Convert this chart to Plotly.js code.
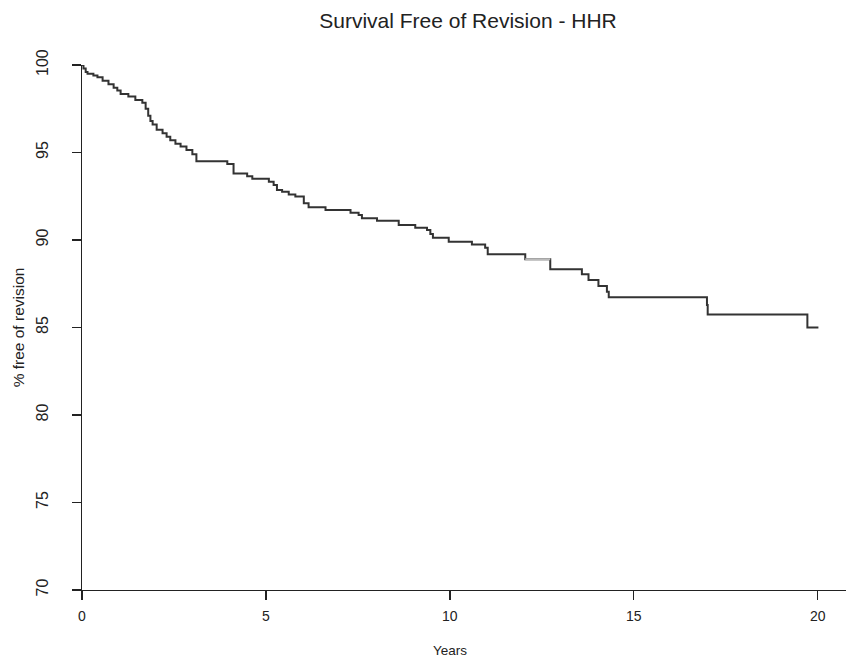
<!DOCTYPE html>
<html>
<head>
<meta charset="utf-8">
<script src="https://cdn.plot.ly/plotly-3.0.1.min.js"></script>
<style>html,body{margin:0;padding:0;background:#fff;}#chart{width:846px;height:662px;}</style>
</head>
<body>
<div id="chart"></div>
<script>
// Kaplan-Meier step curve
const years = [0, 0.04, 0.1, 0.15, 0.31, 0.42, 0.56, 0.72, 0.86, 0.96, 1.05, 1.26, 1.45, 1.64, 1.73, 1.8, 1.86, 1.92, 2.03, 2.19, 2.3, 2.4, 2.54, 2.68, 2.84, 3.0, 3.11, 3.95, 4.12, 4.49, 4.63, 5.08, 5.21, 5.3, 5.44, 5.62, 5.8, 6.03, 6.16, 6.62, 7.3, 7.52, 7.61, 8.02, 8.61, 9.06, 9.38, 9.47, 9.54, 9.97, 10.6, 10.96, 11.03, 12.05, 12.73, 13.59, 13.77, 14.04, 14.27, 14.32, 16.99, 17.01, 19.72, 20.02];
const survival = [100, 99.8, 99.6, 99.5, 99.4, 99.3, 99.1, 98.9, 98.7, 98.55, 98.35, 98.2, 98.0, 97.85, 97.5, 97.1, 96.8, 96.6, 96.3, 96.1, 95.9, 95.7, 95.5, 95.35, 95.15, 94.9, 94.5, 94.35, 93.8, 93.65, 93.5, 93.33, 93.14, 92.86, 92.76, 92.6, 92.48, 92.1, 91.87, 91.71, 91.56, 91.43, 91.24, 91.1, 90.86, 90.7, 90.57, 90.35, 90.13, 89.9, 89.75, 89.56, 89.18, 88.9, 88.33, 88.04, 87.71, 87.37, 87.05, 86.73, 86.29, 85.75, 85.0, 85.0];
// the faint segment of the curve (between these two steps)
const faintFrom = 12.05, faintTo = 12.73;
const xTicks = [0, 5, 10, 15, 20];
const yTicks = [70, 75, 80, 85, 90, 95, 100];

const iA = years.indexOf(faintFrom), iB = years.indexOf(faintTo);
const font = "Liberation Sans, Arial, Helvetica, sans-serif";
const ink = "#222";

const traces = [
  {x: years, y: survival, type: "scatter", mode: "lines", line: {shape: "hv", color: "#333", width: 2}, hoverinfo: "skip"},
  {x: [years[iA], years[iB]], y: [survival[iA], survival[iA]], type: "scatter", mode: "lines", line: {color: "#bbb", width: 2}, hoverinfo: "skip"}
];

const layout = {
  width: 846, height: 662,
  margin: {l: 82, r: 0, t: 65, b: 72, pad: 0},
  paper_bgcolor: "#fff", plot_bgcolor: "#fff",
  showlegend: false,
  font: {family: font, color: ink, size: 14},
  title: {text: "Survival Free of Revision - HHR", font: {family: font, size: 21, color: ink},
          xref: "container", x: 468 / 846, xanchor: "center", yref: "container", y: 1 - 21 / 662, yanchor: "middle"},
  xaxis: {range: [0, 20.77], tickvals: xTicks, ticktext: xTicks.map(String), ticks: "outside", ticklen: 9, tickwidth: 1.4, tickcolor: ink,
          showline: true, linecolor: ink, linewidth: 1.4, showgrid: false, zeroline: false, tickfont: {size: 14, family: font, color: ink}, ticklabelstandoff: 4},
  yaxis: {range: [70, 100], tickvals: yTicks, ticktext: yTicks.map(String), ticks: "outside", ticklen: 9, tickwidth: 1.4, tickcolor: ink, tickangle: -90,
          showline: true, linecolor: ink, linewidth: 1.4, showgrid: false, zeroline: false, tickfont: {size: 16, family: font, color: ink}, ticklabelstandoff: 17,
          title: {text: "% free of revision", font: {size: 15.5, family: font, color: ink}, standoff: 5}},
  annotations: [{text: "Years", xref: "x", x: 10, yref: "paper", y: -(650 - 590) / 525, xanchor: "center", yanchor: "middle", showarrow: false, font: {size: 13.5, family: font, color: ink}}]
};

Plotly.newPlot("chart", traces, layout, {displayModeBar: false, staticPlot: true});
</script>
</body>
</html>
